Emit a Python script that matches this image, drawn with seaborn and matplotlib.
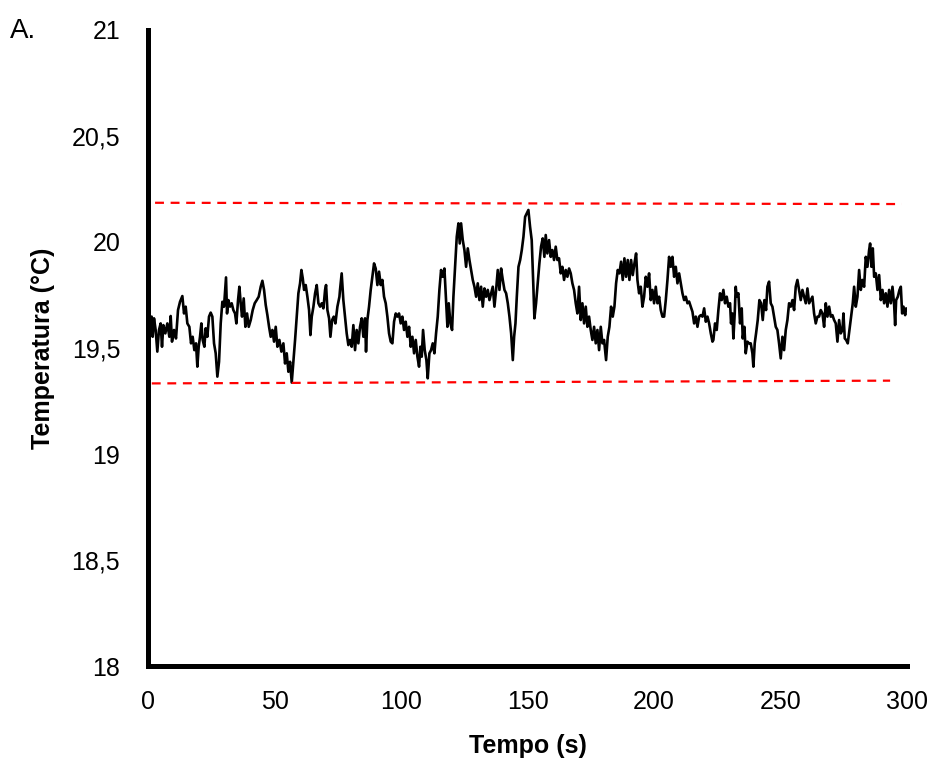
import matplotlib
import matplotlib.pyplot as plt
import seaborn as sns
import pandas as pd

matplotlib.use('Agg')

# traced temperature series (time in s, temperature in degC)
time_s = [
    0.3, 1.45, 1.85, 2.38, 3.03, 3.69, 4.35, 5.01, 5.54, 6.07, 6.86, 7.65, 8.44, 8.97, 9.49,
    10.28, 11.07, 11.87, 12.66, 13.58, 14.24, 14.90, 15.56, 16.35, 17.01, 17.66, 18.32, 18.98,
    19.51, 20.04, 20.56, 21.09, 21.62, 22.28, 22.80, 23.46, 24.12, 24.78, 25.44, 26.10, 26.76,
    27.42, 28.08, 28.74, 29.39, 30.05, 30.58, 30.84, 31.24, 31.77, 32.43, 33.08, 33.74, 34.40,
    34.93, 35.59, 36.12, 36.64, 37.17, 37.83, 38.49, 39.15, 39.81, 40.60, 41.39, 42.18, 42.97,
    43.76, 44.55, 45.21, 45.87, 46.53, 47.19, 47.85, 48.51, 49.16, 49.82, 50.48, 51.14, 51.93,
    52.72, 53.51, 54.17, 54.83, 55.49, 56.15, 56.81, 57.47, 58.13, 58.79, 59.44, 60.10, 60.63,
    61.16, 61.69, 62.34, 63.00, 63.66, 64.19, 64.72, 65.38, 66.04, 66.69, 67.35, 68.01, 68.67,
    69.33, 69.99, 70.38, 70.91, 71.57, 72.10, 72.76, 73.42, 74.07, 74.86, 75.66,
    75.89, 76.55, 77.21, 77.87, 78.53, 79.19, 79.85, 80.51, 81.17, 81.83, 82.48, 83.14, 83.80,
    84.46, 85.12, 85.78, 86.17, 86.70, 87.36, 88.02, 88.68, 89.34, 90.00, 90.66, 91.32, 91.98,
    92.63, 93.29, 93.95, 94.61, 95.27, 95.93, 96.59, 97.25, 97.91, 98.56, 99.22, 99.88, 100.54,
    101.20, 101.86, 102.52, 103.18, 103.84, 104.50, 105.16, 105.82, 106.48, 107.13, 107.66,
    108.19, 108.71, 109.37, 110.03, 110.56, 111.22, 111.88, 112.54, 113.20, 113.85, 114.51,
    115.17, 115.83, 116.49, 117.15, 117.81, 118.34, 118.87, 119.52, 120.18, 120.71, 121.37,
    122.03, 122.69, 123.21, 123.74, 124.40, 125.06, 125.72, 126.38, 127.04, 127.70, 128.36,
    129.02, 129.68, 130.33, 130.99, 131.65, 132.31, 132.97, 133.63, 134.29, 134.95, 135.61,
    136.26, 136.92, 137.58, 138.24, 138.90, 139.56, 140.22, 140.88, 141.54, 142.20, 142.86,
    143.52, 144.18, 144.70, 145.23, 145.76, 146.42, 147.08, 147.73, 148.39, 149.05,
    149.68, 150.34, 151.00, 151.65, 152.31, 152.71, 153.37, 154.03, 154.68, 155.34, 156.00,
    156.66, 157.19, 157.85, 158.51, 159.17, 159.82, 160.48, 161.14, 161.80, 162.46, 163.12,
    163.78, 164.44, 165.10, 165.76, 166.41, 167.07, 167.73, 168.39, 169.05, 169.71, 170.37,
    171.03, 171.69, 172.35, 173.01, 173.66, 174.32, 174.98, 175.64, 176.30, 176.96, 177.62,
    178.28, 178.94, 179.59, 180.25, 181.04, 181.70, 182.36, 183.02, 183.68, 184.34, 185.00,
    185.66, 186.32, 186.97, 187.63, 188.29, 188.95, 189.61, 190.27, 190.93, 191.59, 192.25,
    192.91, 193.43, 194.09, 194.75, 195.41, 196.07, 196.73, 197.39, 198.04, 198.70, 199.36,
    200.02, 200.68, 201.34, 202.00, 202.66, 203.32, 203.98, 204.64, 205.30, 205.95, 206.61,
    207.27, 207.93, 208.59, 209.25, 209.91, 210.57, 211.23, 211.89, 212.55, 213.20, 213.86,
    214.52, 215.18, 215.84, 216.50, 217.16, 217.82, 218.48, 219.14, 219.80, 220.46, 221.12,
    221.77, 222.43, 223.09,
    223.45, 224.11, 224.77, 225.43, 226.08, 226.74, 227.40, 228.06, 228.72, 229.38, 230.04,
    230.43, 230.96, 231.36, 231.88, 232.28, 232.67, 233.33, 233.99, 234.65, 235.05, 235.71,
    236.23, 236.89, 237.55, 238.21, 238.87, 239.26, 239.79, 240.32, 240.98, 241.64, 242.30,
    242.96, 243.61, 244.27, 244.80, 245.46, 246.12, 246.78, 247.44, 248.10, 248.75, 249.41,
    250.07, 250.73, 251.39, 252.05, 252.71, 253.37, 254.03, 254.69, 255.35, 256.00, 256.66,
    257.32, 257.98, 258.64, 259.30, 259.96, 260.62, 261.28, 261.94, 262.60, 263.25, 263.91,
    264.57, 265.23, 265.89, 266.55, 267.21, 267.87, 268.53, 269.19, 269.84, 270.50, 271.16,
    271.82, 272.48, 273.14, 273.80, 274.46, 274.85, 275.38, 275.91, 276.56, 277.22, 277.88,
    278.54, 279.07, 279.73, 280.39, 281.05, 281.71, 282.36, 283.02, 283.68, 284.34, 285.00,
    285.40, 285.92, 286.45, 286.98, 287.64, 288.30, 288.96, 289.62, 290.28, 290.93, 291.59,
    292.25, 292.91, 293.57, 294.23, 294.89, 295.28, 295.68, 296.34, 297.00, 297.53, 298.05,
    298.58, 299.24, 299.64,
]
temp_c = [
    19.62, 19.648, 19.553, 19.640, 19.585, 19.483, 19.585, 19.616, 19.506, 19.608, 19.569,
    19.616, 19.553, 19.651, 19.530, 19.585, 19.545, 19.679, 19.718, 19.745, 19.663, 19.695,
    19.616, 19.600, 19.522, 19.553, 19.490, 19.522, 19.412, 19.506, 19.553, 19.616, 19.538,
    19.506, 19.593, 19.553, 19.648, 19.667, 19.648, 19.522, 19.475, 19.365, 19.435, 19.616,
    19.718, 19.695, 19.789, 19.833, 19.663, 19.726, 19.695, 19.711, 19.679, 19.663, 19.616,
    19.726, 19.789, 19.711, 19.648, 19.734, 19.600, 19.663, 19.600, 19.632, 19.679, 19.711,
    19.726, 19.742, 19.789, 19.817, 19.774, 19.703, 19.655, 19.600, 19.553, 19.585, 19.530,
    19.600, 19.506, 19.538, 19.483, 19.522, 19.427, 19.475, 19.388, 19.435, 19.337, 19.435,
    19.538, 19.648, 19.758, 19.805, 19.868, 19.829, 19.774, 19.797, 19.742, 19.679, 19.561,
    19.648, 19.695, 19.758, 19.797, 19.711, 19.695, 19.711, 19.687, 19.774, 19.797, 19.679,
    19.640, 19.553, 19.632, 19.648, 19.616, 19.695, 19.742,
    19.774, 19.852, 19.726, 19.648, 19.569, 19.514, 19.538, 19.506, 19.608, 19.490, 19.585,
    19.522, 19.600, 19.640, 19.553, 19.640, 19.483, 19.632, 19.695, 19.774, 19.836, 19.899,
    19.875, 19.797, 19.860, 19.797, 19.821, 19.742, 19.711, 19.648, 19.569, 19.530, 19.522,
    19.624, 19.663, 19.648, 19.663, 19.616, 19.648, 19.585, 19.624, 19.553, 19.600, 19.506,
    19.553, 19.475, 19.538, 19.459, 19.412, 19.506, 19.459, 19.585, 19.490, 19.443, 19.357,
    19.475, 19.490, 19.522, 19.475, 19.569, 19.648, 19.774, 19.868, 19.836, 19.875, 19.726,
    19.600, 19.711, 19.616, 19.585, 19.742, 19.883, 20.025, 20.088, 19.993, 20.088, 20.009,
    19.962, 19.883, 19.970, 19.915, 19.868, 19.821, 19.789, 19.742, 19.805, 19.726, 19.789,
    19.695, 19.781, 19.742, 19.774, 19.726, 19.758, 19.789, 19.695, 19.774, 19.868, 19.774,
    19.875, 19.821, 19.774, 19.758, 19.711, 19.648, 19.569, 19.443, 19.553, 19.616, 19.742,
    19.883, 19.915, 19.962, 20.025, 20.119,
    20.135, 20.151, 20.072, 20.009, 19.789, 19.640, 19.711, 19.805, 19.899, 19.978, 20.017,
    19.930, 20.033, 19.946, 20.009, 19.930, 19.962, 19.915, 19.978, 19.915, 19.923, 19.852,
    19.883, 19.821, 19.868, 19.836, 19.875, 19.852, 19.805, 19.774, 19.711, 19.663, 19.789,
    19.632, 19.711, 19.616, 19.695, 19.600, 19.648, 19.585, 19.538, 19.600, 19.522, 19.585,
    19.490, 19.600, 19.522, 19.538, 19.443, 19.553, 19.600, 19.695, 19.648, 19.695, 19.805,
    19.868, 19.852, 19.907, 19.821, 19.923, 19.836, 19.915, 19.821, 19.915, 19.844, 19.899,
    19.946, 19.821, 19.758, 19.789, 19.695, 19.742, 19.836, 19.789, 19.852, 19.726, 19.774,
    19.711, 19.789, 19.711, 19.742, 19.679, 19.648, 19.648, 19.726, 19.821, 19.930, 19.883,
    19.930, 19.836, 19.883, 19.805, 19.852, 19.805, 19.758, 19.726, 19.742, 19.711, 19.719,
    19.695, 19.671, 19.616, 19.648, 19.600, 19.648, 19.655, 19.648, 19.687, 19.624, 19.648,
    19.616, 19.569, 19.530,
    19.538, 19.616, 19.585, 19.679, 19.758, 19.726, 19.774, 19.711, 19.742, 19.695, 19.711,
    19.616, 19.663, 19.545, 19.663, 19.789, 19.742, 19.758, 19.616, 19.687, 19.545, 19.600,
    19.475, 19.530, 19.522, 19.522, 19.475, 19.412, 19.522, 19.569, 19.632, 19.726, 19.711,
    19.632, 19.726, 19.679, 19.789, 19.813, 19.711, 19.695, 19.648, 19.600, 19.585, 19.522,
    19.451, 19.553, 19.490, 19.585, 19.632, 19.711, 19.695, 19.726, 19.679, 19.789, 19.821,
    19.774, 19.726, 19.774, 19.742, 19.711, 19.781, 19.711, 19.726, 19.742, 19.663, 19.616,
    19.648, 19.648, 19.679, 19.663, 19.600, 19.711, 19.648, 19.695, 19.648, 19.655, 19.632,
    19.616, 19.530, 19.632, 19.569, 19.585, 19.663, 19.545, 19.538, 19.522, 19.585, 19.648,
    19.711, 19.789, 19.695, 19.742, 19.868, 19.774, 19.821, 19.789, 19.930, 19.883, 19.962,
    19.993, 19.883, 19.970, 19.836, 19.852, 19.774, 19.844, 19.726, 19.774, 19.711, 19.758,
    19.695, 19.774, 19.711, 19.789, 19.703, 19.608, 19.726, 19.742, 19.774, 19.789, 19.663,
    19.695, 19.655, 19.687,
]

# dashed limit lines (red)
upper_x = [2.8, 297.9]
upper_y = [20.185, 20.179]
lower_x = [1.5, 293.3]
lower_y = [19.333, 19.346]

y_ticks = [18, 18.5, 19, 19.5, 20, 20.5, 21]
y_tick_labels = ['18', '18,5', '19', '19,5', '20', '20,5', '21']
x_ticks = [0, 50, 100, 150, 200, 250, 300]

sns.set_theme(style='white')
plt.rcParams['font.family'] = ['Liberation Sans', 'DejaVu Sans']

series = pd.DataFrame({'Tempo (s)': time_s, 'Temperatura': temp_c})

fig = plt.figure(figsize=(9.39, 7.63), dpi=100)
ax = fig.add_axes([0.1576, 0.1271, 0.8084, 0.8336])

sns.lineplot(data=series, x='Tempo (s)', y='Temperatura', color='black',
             linewidth=1.9, estimator=None, ax=ax)
sns.lineplot(x=upper_x, y=upper_y, color='red', linewidth=1.6,
             linestyle=(0, (4, 3)), estimator=None, ax=ax)
sns.lineplot(x=lower_x, y=lower_y, color='red', linewidth=1.6,
             linestyle=(0, (4, 3)), estimator=None, ax=ax)

ax.set_xlim(0, 300)
ax.set_ylim(18, 21)
ax.set_xticks(x_ticks)
ax.set_yticks(y_ticks)
ax.set_yticklabels(y_tick_labels)
ax.tick_params(axis='both', length=0, labelsize=18, colors='black')
ax.tick_params(axis='y', pad=20)
ax.tick_params(axis='x', pad=17)

for side in ['top', 'right']:
    ax.spines[side].set_visible(False)
for side in ['left', 'bottom']:
    ax.spines[side].set_linewidth(3.6)
    ax.spines[side].set_color('black')

ax.set_xlabel('Tempo (s)', fontsize=18, fontweight='bold', labelpad=15, color='black')
ax.set_ylabel('Temperatura (°C)', fontsize=18, fontweight='bold', labelpad=12, color='black')

fig.text(0.011, 0.96, 'A.', fontsize=20, va='center', ha='left', color='black')

fig.savefig('out.png', dpi=100, facecolor='white')
